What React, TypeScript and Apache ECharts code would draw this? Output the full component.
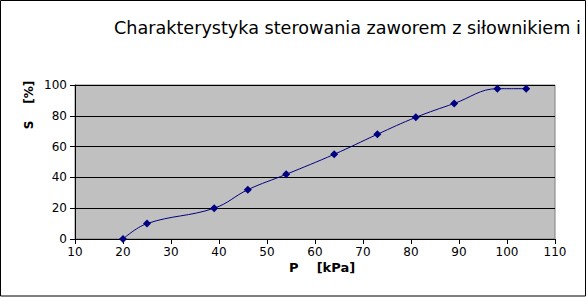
import React, { useEffect, useRef } from "react";
import * as echarts from "echarts";

const titleText = "Charakterystyka sterowania zaworem z siłownikiem i";
const xAxisName = "P    [kPa]";
const yAxisName = "S    [%]";
const pressure = [20, 25, 39, 46, 54, 64, 73, 81, 89, 98, 104];
const stroke = [0, 10, 20, 32, 42, 55, 68, 79, 88, 97.6, 97.6];

export default function App() {
  const ref = useRef<HTMLDivElement>(null);
  useEffect(() => {
    document.body.style.margin = "0";
    const chart = echarts.init(ref.current!, null, { renderer: "svg" });
    const font = "'DejaVu Sans', sans-serif";
    chart.setOption({
      animation: false,
      backgroundColor: "#ffffff",
      textStyle: { fontFamily: font },
      graphic: [
        {
          type: "rect",
          shape: { x: 0.5, y: 0.5, width: 585, height: 295.5 },
          style: { fill: "none", stroke: "#000", lineWidth: 1 },
          silent: true,
        },
        {
          type: "text",
          left: 114,
          top: 19,
          style: { text: titleText, fontSize: 17.6, fontFamily: font, fill: "#000" },
        },
        {
          type: "text",
          left: 289,
          top: 261,
          style: { text: xAxisName, fontSize: 13, fontWeight: "bold", fontFamily: font, fill: "#000" },
        },
        {
          type: "text",
          x: 29,
          y: 105,
          rotation: Math.PI / 2,
          style: {
            text: yAxisName,
            fontSize: 12,
            fontWeight: "bold",
            fontFamily: font,
            fill: "#000",
            align: "center",
            verticalAlign: "middle",
          },
        },
      ],
      grid: {
        left: 75,
        right: 33,
        top: 85,
        bottom: 58,
        show: true,
        backgroundColor: "#c0c0c0",
        borderColor: "#808080",
        borderWidth: 1,
      },
      xAxis: {
        type: "value",
        min: 10,
        max: 110,
        interval: 10,
        axisLine: { show: true, onZero: false, lineStyle: { color: "#000", width: 1 } },
        axisTick: { show: true, length: 5, lineStyle: { color: "#000" } },
        axisLabel: { color: "#000", fontSize: 12, fontFamily: font, margin: 7 },
        splitLine: { show: false },
      },
      yAxis: {
        type: "value",
        min: 0,
        max: 100,
        interval: 20,
        axisLine: { show: true, lineStyle: { color: "#000", width: 1 } },
        axisTick: { show: true, length: 5, lineStyle: { color: "#000" } },
        axisLabel: { color: "#000", fontSize: 12, fontFamily: font, margin: 8 },
        splitLine: { show: true, lineStyle: { color: "#000", width: 1 } },
      },
      series: [
        {
          type: "line",
          data: pressure.map((p, i) => [p, stroke[i]]),
          smooth: 0.4,
          symbol: "diamond",
          symbolSize: 8,
          lineStyle: { color: "#000080", width: 1 },
          itemStyle: { color: "#000080" },
        },
      ],
    });
    return () => chart.dispose();
  }, []);
  return <div ref={ref} style={{ width: 588, height: 297 }} />;
}
